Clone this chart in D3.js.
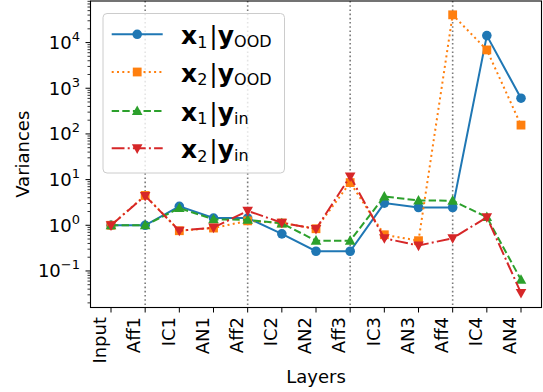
<!DOCTYPE html>
<html><head><meta charset="utf-8">
<script src="https://cdn.jsdelivr.net/npm/d3@7"></script>
<style>body{margin:0;background:#fff}svg{display:block;font-family:"DejaVu Sans",sans-serif}</style>
</head><body>
<svg id="c" width="543" height="392"></svg>
<script>
const layers = ["Input","Aff1","IC1","AN1","Aff2","IC2","AN2","Aff3","IC3","AN3","Aff4","IC4","AN4"];
const x1_yOOD = [1.0, 1.0, 2.6, 1.44, 1.44, 0.65, 0.27, 0.27, 3.06, 2.45, 2.45, 14200, 605];
const x2_yOOD = [1.0, 4.5, 0.76, 0.87, 1.25, 1.12, 0.84, 8.6, 0.62, 0.46, 40500, 6900, 156];
const x1_yin  = [1.0, 1.0, 2.38, 1.35, 1.32, 1.1, 0.46, 0.46, 4.27, 3.49, 3.45, 1.51, 0.064];
const x2_yin  = [1.0, 4.4, 0.76, 0.89, 2.07, 1.14, 0.83, 11.7, 0.52, 0.36, 0.52, 1.5, 0.033];
const gridLayers = ["Aff1","Aff2","Aff3","Aff4"];
const yTickExps = [-1, 0, 1, 2, 3, 4];
const seriesNames = [["x","1","y","OOD"],["x","2","y","OOD"],["x","1","y","in"],["x","2","y","in"]];

const series = [
  {vals:x1_yOOD, color:"#1f77b4", dash:null, marker:"circle"},
  {vals:x2_yOOD, color:"#ff7f0e", dash:"2,3.3", marker:"square"},
  {vals:x1_yin,  color:"#2ca02c", dash:"7.4,3.2", marker:"triangle"},
  {vals:x2_yin,  color:"#d62728", dash:"12.8,3.2,2,3.2", marker:"tridown"}
];

const L=90.5, R=541.5, T=1, B=307.5;
const svg = d3.select("#c");
const x = d3.scaleLinear().domain([-0.6, 12.6]).range([L, R]);
const y = d3.scaleLog().domain([Math.pow(10,-1.8), Math.pow(10,4.91)]).range([B, T]);

// grid
svg.append("g").selectAll("line").data(gridLayers).join("line")
  .attr("x1", d=>x(layers.indexOf(d))).attr("x2", d=>x(layers.indexOf(d)))
  .attr("y1", T).attr("y2", B)
  .attr("stroke","#7a7a7a").attr("stroke-width",1.6).attr("stroke-dasharray","1.6,2.6");

// y minor ticks
const minor = [];
for (let e=-2; e<=4; e++) for (let m=2; m<=9; m++) { const v=m*Math.pow(10,e); if (v>=y.domain()[0] && v<=y.domain()[1]) minor.push(v); }
svg.append("g").selectAll("line").data(minor).join("line")
  .attr("x1", L).attr("x2", L-3).attr("y1", d=>y(d)).attr("y2", d=>y(d))
  .attr("stroke","#000").attr("stroke-width",0.8);
// y major ticks
svg.append("g").selectAll("line").data(yTickExps).join("line")
  .attr("x1", L).attr("x2", L-5).attr("y1", d=>y(Math.pow(10,d))).attr("y2", d=>y(Math.pow(10,d)))
  .attr("stroke","#000").attr("stroke-width",1);
const yl = svg.append("g").selectAll("text").data(yTickExps).join("text")
  .attr("x", 80).attr("y", d=>y(Math.pow(10,d))+6.5).attr("text-anchor","end")
  .attr("font-size",18).attr("fill","#000");
yl.append("tspan").text("10");
yl.append("tspan").attr("font-size",13).attr("dy",-8).text(d=> d<0 ? "\u2212"+(-d) : String(d));

// x ticks
svg.append("g").selectAll("line").data(layers).join("line")
  .attr("x1",(d,i)=>x(i)).attr("x2",(d,i)=>x(i)).attr("y1",B).attr("y2",B+5)
  .attr("stroke","#000").attr("stroke-width",1);
svg.append("g").selectAll("text").data(layers).join("text")
  .attr("transform",(d,i)=>`translate(${x(i)-4.8},317) rotate(-90)`)
  .attr("text-anchor","end").attr("font-size",18).attr("fill","#000").text(d=>d);

// axis labels
svg.append("text").attr("transform",`translate(29,${(T+B)/2}) rotate(-90)`)
  .attr("text-anchor","middle").attr("font-size",18).text("Variances");
svg.append("text").attr("x",(L+R)/2).attr("y",382.5).attr("text-anchor","middle")
  .attr("font-size",18).text("Layers");

// markers
function drawMarker(g, type, cx, cy, color){
  if (type==="circle") g.append("circle").attr("cx",cx).attr("cy",cy).attr("r",4.8).attr("fill",color);
  else if (type==="square") g.append("rect").attr("x",cx-4.4).attr("y",cy-4.4).attr("width",8.8).attr("height",8.8).attr("fill",color);
  else if (type==="triangle") g.append("path").attr("d",`M${cx},${cy-5.6}L${cx+5.3},${cy+4}L${cx-5.3},${cy+4}Z`).attr("fill",color);
  else g.append("path").attr("d",`M${cx},${cy+5.6}L${cx+5.3},${cy-4}L${cx-5.3},${cy-4}Z`).attr("fill",color);
}

const line = d3.line().x((d,i)=>x(i)).y(d=>y(d));
const plot = svg.append("g");
series.forEach(s=>{
  const g = plot.append("g");
  g.append("path").attr("d", line(s.vals)).attr("fill","none").attr("stroke",s.color)
    .attr("stroke-width",2).attr("stroke-dasharray",s.dash);
  s.vals.forEach((v,i)=>drawMarker(g, s.marker, x(i), y(v), s.color));
});

// spines
svg.append("rect").attr("x",L).attr("y",T).attr("width",R-L).attr("height",B-T)
  .attr("fill","none").attr("stroke","#000").attr("stroke-width",1.1);

// legend
const lg = svg.append("g");
lg.append("rect").attr("x",103).attr("y",13.5).attr("width",181.5).attr("height",159.5).attr("rx",4)
  .attr("fill","#fff").attr("fill-opacity",0.8).attr("stroke","#cccccc").attr("stroke-width",1);
const rowY = [34.3, 72, 111, 148.3];
series.forEach((s,k)=>{
  const cy = rowY[k];
  lg.append("line").attr("x1",111.7).attr("x2",162.7).attr("y1",cy).attr("y2",cy)
    .attr("stroke",s.color).attr("stroke-width",2).attr("stroke-dasharray",s.dash);
  drawMarker(lg, s.marker, 137.2, cy, s.color);
  const n = seriesNames[k];
  const t = lg.append("text").attr("x",181).attr("y",cy+9.7).attr("font-size",25).attr("fill","#000");
  t.append("tspan").attr("font-weight","bold").text(n[0]);
  t.append("tspan").attr("font-size",16).attr("dy",3.5).text(n[1]);
  t.append("tspan").attr("dy",-3.5).attr("dx",2).text("|");
  t.append("tspan").attr("font-weight","bold").text(n[2]);
  t.append("tspan").attr("font-size",16).attr("dy",3).text(n[3]);
});
</script>
</body></html>
